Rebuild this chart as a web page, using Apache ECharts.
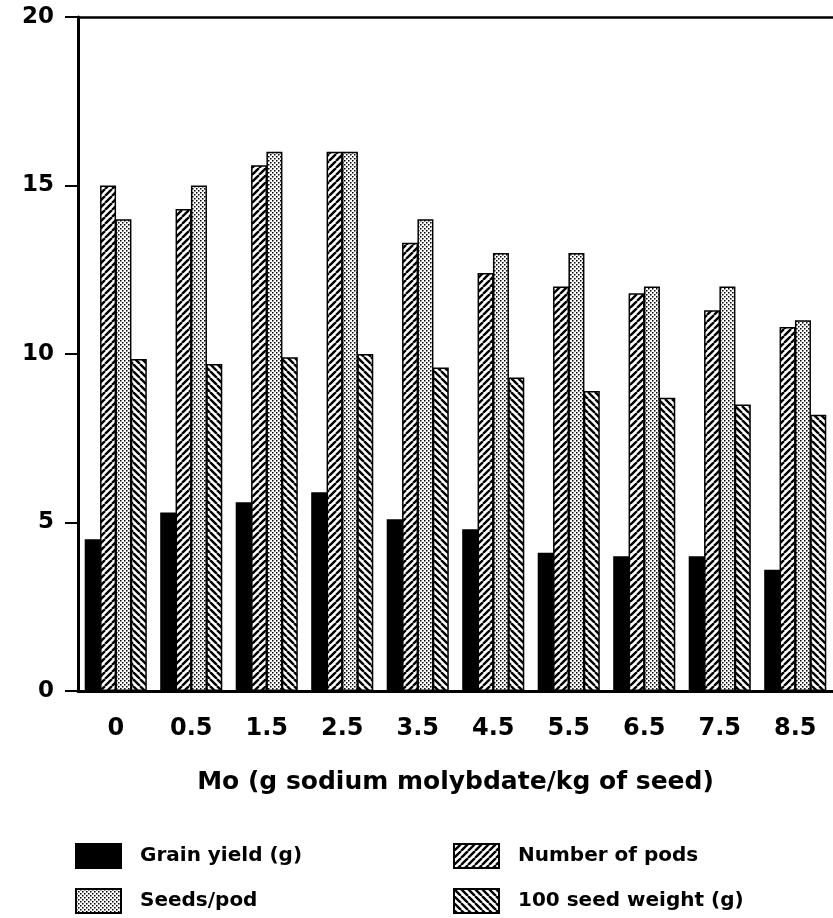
<!DOCTYPE html>
<html>
<head>
<meta charset="utf-8">
<script src="https://cdn.jsdelivr.net/npm/echarts@6/dist/echarts.min.js"></script>
<style>
  html, body { margin: 0; padding: 0; background: #fff; }
  #chart { width: 833px; height: 918px; }
</style>
</head>
<body>
<div id="chart"></div>
<script>
const categories = ['0', '0.5', '1.5', '2.5', '3.5', '4.5', '5.5', '6.5', '7.5', '8.5']
const grainYield = [4.5, 5.3, 5.6, 5.9, 5.1, 4.8, 4.1, 4.0, 4.0, 3.6]
const numberOfPods = [15.0, 14.3, 15.6, 16.0, 13.3, 12.4, 12.0, 11.8, 11.3, 10.8]
const seedsPerPod = [14.0, 15.0, 16.0, 16.0, 14.0, 13.0, 13.0, 12.0, 12.0, 11.0]
const seedWeight = [9.85, 9.7, 9.9, 10.0, 9.6, 9.3, 8.9, 8.7, 8.5, 8.2]
const yTicks = { min: 0, max: 20, interval: 5 }

const FONT = 'DejaVu Sans'

// small canvas tiles used as bar fills
function hatch(dir) {
  const c = document.createElement('canvas')
  c.width = 7; c.height = 7
  const g = c.getContext('2d')
  g.fillStyle = '#fff'
  g.fillRect(0, 0, 7, 7)
  g.strokeStyle = '#000'
  g.lineWidth = 2.4
  g.beginPath()
  for (let k = -7; k <= 14; k += 7) {
    if (dir > 0) { g.moveTo(k, 7); g.lineTo(k + 7, 0) }
    else { g.moveTo(k, 0); g.lineTo(k + 7, 7) }
  }
  g.stroke()
  return { image: c, repeat: 'repeat' }
}

function dots() {
  const c = document.createElement('canvas')
  c.width = 4; c.height = 4
  const g = c.getContext('2d')
  g.fillStyle = '#fff'
  g.fillRect(0, 0, 4, 4)
  g.fillStyle = '#000'
  g.fillRect(0, 0, 1.5, 1.5)
  g.fillRect(2, 2, 1.5, 1.5)
  return { image: c, repeat: 'repeat' }
}

const chart = echarts.init(document.getElementById('chart'), null, { renderer: 'canvas' })

function bar(name, data, fill) {
  return {
    name,
    type: 'bar',
    data,
    barWidth: 16,
    barGap: '-4%',
    itemStyle: { color: fill, borderColor: '#000', borderWidth: 1.5 }
  }
}

// one legend box per entry, laid out as a 2x2 block
function legendItem(name, left, top) {
  return {
    data: [name],
    left, top,
    icon: 'rect',
    itemWidth: 45, itemHeight: 24,
    padding: 0,
    textStyle: { fontFamily: FONT, fontWeight: 'bold', fontSize: 20, color: '#000', padding: [0, 0, 0, 14] }
  }
}

const option = {
  animation: false,
  backgroundColor: '#fff',
  grid: { left: 78, right: 0, top: 17, bottom: 227 },
  legend: [
    legendItem('Grain yield (g)', 75, 843),
    legendItem('Seeds/pod', 75, 888),
    legendItem('Number of pods', 453, 843),
    legendItem('100 seed weight (g)', 453, 888)
  ],
  xAxis: [
    {
      type: 'category',
      data: categories,
      name: 'Mo (g sodium molybdate/kg of seed)',
      nameLocation: 'middle',
      nameGap: 79,
      nameTextStyle: { fontFamily: FONT, fontWeight: 'bold', fontSize: 25, color: '#000' },
      axisLine: { lineStyle: { color: '#000', width: 3 } },
      axisTick: { alignWithLabel: true, length: 13, lineStyle: { color: '#000', width: 2 } },
      axisLabel: { margin: 26, fontFamily: FONT, fontWeight: 'bold', fontSize: 24, color: '#000' }
    },
    {
      type: 'category',
      data: categories,
      position: 'top',
      axisLine: { lineStyle: { color: '#000', width: 2.5 } },
      axisTick: { show: false },
      axisLabel: { show: false }
    }
  ],
  yAxis: {
    type: 'value',
    min: yTicks.min,
    max: yTicks.max,
    interval: yTicks.interval,
    axisLine: { show: true, lineStyle: { color: '#000', width: 3 } },
    axisTick: { show: true, length: 13, lineStyle: { color: '#000', width: 2 } },
    splitLine: { show: false },
    axisLabel: { margin: 24, fontFamily: FONT, fontWeight: 'bold', fontSize: 23, color: '#000' }
  },
  series: [
    bar('Grain yield (g)', grainYield, '#000'),
    bar('Number of pods', numberOfPods, hatch(1)),
    bar('Seeds/pod', seedsPerPod, dots()),
    bar('100 seed weight (g)', seedWeight, hatch(-1))
  ]
}

chart.setOption(option)
</script>
</body>
</html>
